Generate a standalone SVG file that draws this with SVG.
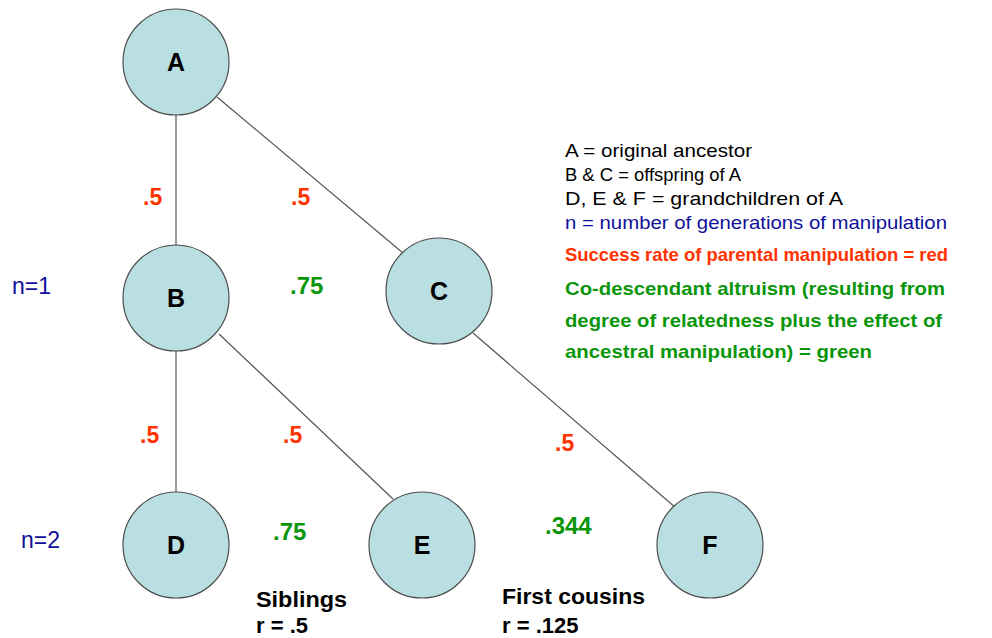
<svg xmlns="http://www.w3.org/2000/svg" width="992" height="638" viewBox="0 0 992 638">
  <style>
    .node { fill: #b9dfe2; stroke: #4d4d4d; stroke-width: 1.2; }
    .lbl { font-family: "Liberation Sans", Arial, sans-serif; font-size: 25px; font-weight: bold; fill: #000; text-anchor: middle; }
    .edge { stroke: #555; stroke-width: 1.2; fill: none; }
    .rate { font-family: "Liberation Sans", Arial, sans-serif; font-size: 23px; font-weight: bold; fill: #ff3300; }
    .alt { font-family: "Liberation Sans", Arial, sans-serif; font-size: 24px; font-weight: bold; fill: #0a960a; }
    .gen { font-family: "Liberation Sans", Arial, sans-serif; font-size: 23px; fill: #10109a; }
    .key { font-family: "Liberation Sans", Arial, sans-serif; font-size: 19px; fill: #000; }
    .keyb { font-family: "Liberation Sans", Arial, sans-serif; font-size: 19px; font-weight: bold; }
    .note { font-family: "Liberation Sans", Arial, sans-serif; font-size: 22px; font-weight: bold; fill: #000; }
  </style>
  <rect width="992" height="638" fill="#ffffff"/>

  <!-- connectors -->
  <g id="connectors">
    <line class="edge" x1="176" y1="115" x2="176" y2="245"/>
    <line class="edge" x1="217" y1="97" x2="403" y2="253"/>
    <line class="edge" x1="176" y1="351" x2="176" y2="492"/>
    <line class="edge" x1="219" y1="334" x2="393" y2="499"/>
    <line class="edge" x1="473" y1="333" x2="676" y2="508"/>
  </g>

  <!-- nodes -->
  <g id="node-A"><circle class="node" cx="176" cy="62" r="53"/><text class="lbl" x="176" y="71">A</text></g>
  <g id="node-B"><circle class="node" cx="176" cy="298" r="53"/><text class="lbl" x="176" y="307">B</text></g>
  <g id="node-C"><circle class="node" cx="439" cy="291" r="53"/><text class="lbl" x="439" y="300">C</text></g>
  <g id="node-D"><circle class="node" cx="176" cy="545" r="53"/><text class="lbl" x="176" y="554">D</text></g>
  <g id="node-E"><circle class="node" cx="422" cy="545" r="53"/><text class="lbl" x="422" y="554">E</text></g>
  <g id="node-F"><circle class="node" cx="710" cy="545" r="53"/><text class="lbl" x="710" y="554">F</text></g>

  <!-- manipulation success rates -->
  <g id="rates">
    <text class="rate" x="143" y="205">.5</text>
    <text class="rate" x="291" y="205">.5</text>
    <text class="rate" x="140" y="443">.5</text>
    <text class="rate" x="283" y="443">.5</text>
    <text class="rate" x="555" y="451">.5</text>
  </g>

  <!-- co-descendant altruism values -->
  <g id="altruism">
    <text class="alt" x="290" y="294">.75</text>
    <text class="alt" x="273" y="540">.75</text>
    <text class="alt" x="545" y="534">.344</text>
  </g>

  <!-- generation markers -->
  <g id="generations">
    <text class="gen" x="12" y="294">n=1</text>
    <text class="gen" x="21" y="548">n=2</text>
  </g>

  <!-- key -->
  <g id="key">
    <text class="key" x="565" y="157" textLength="187" lengthAdjust="spacingAndGlyphs">A = original ancestor</text>
    <text class="key" x="565" y="181" textLength="176" lengthAdjust="spacingAndGlyphs">B &amp; C = offspring of A</text>
    <text class="key" x="565" y="205" textLength="278" lengthAdjust="spacingAndGlyphs">D, E &amp; F = grandchildren of A</text>
    <text class="key" x="565" y="229" style="fill:#10109a" textLength="382" lengthAdjust="spacingAndGlyphs">n = number of generations of manipulation</text>
    <text class="keyb" x="565" y="261" fill="#ff3300" textLength="383" lengthAdjust="spacingAndGlyphs">Success rate of parental manipulation = red</text>
    <text class="keyb" x="565" y="295" fill="#0a960a" textLength="380" lengthAdjust="spacingAndGlyphs">Co-descendant altruism (resulting from</text>
    <text class="keyb" x="565" y="327" fill="#0a960a" textLength="377" lengthAdjust="spacingAndGlyphs">degree of relatedness plus the effect of</text>
    <text class="keyb" x="565" y="358" fill="#0a960a" textLength="307" lengthAdjust="spacingAndGlyphs">ancestral manipulation) = green</text>
  </g>

  <!-- relationship notes -->
  <g id="notes">
    <text class="note" x="256" y="607" textLength="91" lengthAdjust="spacingAndGlyphs">Siblings</text>
    <text class="note" x="256" y="633">r = .5</text>
    <text class="note" x="502" y="604" textLength="143" lengthAdjust="spacingAndGlyphs">First cousins</text>
    <text class="note" x="502" y="633">r = .125</text>
  </g>
</svg>
